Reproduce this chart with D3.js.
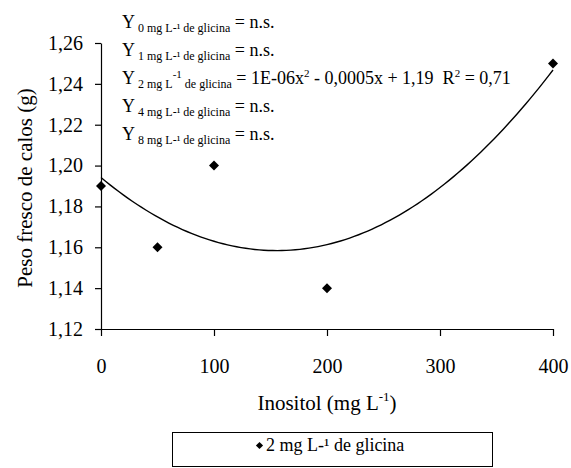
<!DOCTYPE html>
<html>
<head>
<meta charset="utf-8">
<script src="https://cdn.jsdelivr.net/npm/d3@7"></script>
</head>
<body style="margin:0">
<script>
// data
var inositol = [0, 50, 100, 200, 400];
var pesoFresco = [1.19, 1.16, 1.20, 1.14, 1.25];
var xTicks = [0, 100, 200, 300, 400];
var yTicks = [1.12, 1.14, 1.16, 1.18, 1.20, 1.22, 1.24, 1.26];
var glicinaDoses = ['0', '1', '2', '4', '8'];
var seriesName = '2 mg L-\u00b9 de glicina';
var equationText = ['1E-06x', '2', ' - 0,0005x + 1,19\u00a0\u00a0R', '2', ' = 0,71'];

var fullWidth = 571;
var fullHeight = 468;
var margin = {top: 43, right: 18, bottom: 139, left: 101};
var width = fullWidth - margin.left - margin.right;
var height = fullHeight - margin.top - margin.bottom;

var svg = d3.select('body').append('svg')
  .attr('width', fullWidth)
  .attr('height', fullHeight);

var g = svg.append('g')
  .attr('transform', 'translate(' + margin.left + ',' + margin.top + ')');

var xScale = d3.scaleLinear().domain([0, 400]).range([0, width]);
var yScale = d3.scaleLinear().domain([1.12, 1.26]).range([height, 0]);

var comma = function(d) { return d3.format('.2f')(d).replace('.', ','); };

var xAxis = d3.axisBottom(xScale)
  .tickValues(xTicks)
  .tickSize(7)
  .tickSizeOuter(0)
  .tickPadding(23);

var yAxis = d3.axisLeft(yScale)
  .tickValues(yTicks)
  .tickFormat(comma)
  .tickSize(6)
  .tickSizeOuter(0)
  .tickPadding(12);

g.append('g')
  .attr('class', 'x axis')
  .attr('transform', 'translate(0,' + height + ')')
  .call(xAxis);

g.append('g')
  .attr('class', 'y axis')
  .call(yAxis);

g.selectAll('.axis').attr('font-size', 20);
g.selectAll('.axis text').attr('fill', '#000');
g.selectAll('.axis path, .axis line')
  .attr('stroke', '#000')
  .attr('stroke-width', 1.2);

// quadratic least squares fit of the series (trendline)
function quadFit(xs, ys) {
  var n = xs.length;
  var s = [0, 0, 0, 0, 0], t = [0, 0, 0];
  for (var i = 0; i < n; i++) {
    for (var k = 0; k < 5; k++) s[k] += Math.pow(xs[i], k);
    for (var k2 = 0; k2 < 3; k2++) t[k2] += ys[i] * Math.pow(xs[i], k2);
  }
  var A = [[s[0], s[1], s[2], t[0]], [s[1], s[2], s[3], t[1]], [s[2], s[3], s[4], t[2]]];
  for (var c = 0; c < 3; c++) {
    for (var r = c + 1; r < 3; r++) {
      var f = A[r][c] / A[c][c];
      for (var j = c; j < 4; j++) A[r][j] -= f * A[c][j];
    }
  }
  var coef = [0, 0, 0];
  for (var r2 = 2; r2 >= 0; r2--) {
    var v = A[r2][3];
    for (var j2 = r2 + 1; j2 < 3; j2++) v -= A[r2][j2] * coef[j2];
    coef[r2] = v / A[r2][r2];
  }
  return coef;
}

var coef = quadFit(inositol, pesoFresco);
var trend = d3.range(0, 401, 4).map(function(x) {
  return {x: x, y: coef[0] + coef[1] * x + coef[2] * x * x};
});

var line = d3.line()
  .x(function(d) { return xScale(d.x); })
  .y(function(d) { return yScale(d.y); });

g.append('path')
  .datum(trend)
  .attr('fill', 'none')
  .attr('stroke', '#000')
  .attr('stroke-width', 1.4)
  .attr('d', line);

var diamond = d3.symbol().type(d3.symbolSquare).size(50);

g.selectAll('.pt')
  .data(inositol)
  .enter().append('path')
  .attr('class', 'pt')
  .attr('d', diamond)
  .attr('fill', '#000')
  .attr('transform', function(d, i) {
    return 'translate(' + xScale(d) + ',' + yScale(pesoFresco[i]) + ') rotate(45)';
  });

// regression annotation
var note = svg.append('g').attr('class', 'note');
glicinaDoses.forEach(function(dose, i) {
  var t = note.append('text')
    .attr('x', 122)
    .attr('y', 28 + i * 28)
    .attr('font-size', 18);
  t.append('tspan').text('Y');
  if (dose === '2') {
    t.append('tspan').attr('dy', 4).attr('font-size', 12).text('\u00a0' + dose + ' mg L');
    t.append('tspan').attr('dy', -10).attr('font-size', 11).text('-1');
    t.append('tspan').attr('dy', 10).attr('font-size', 12).text('\u00a0de glicina');
    t.append('tspan').attr('dy', -4).text('\u00a0= ' + equationText[0]);
    t.append('tspan').attr('dy', -7).attr('font-size', 11).text(equationText[1]);
    t.append('tspan').attr('dy', 7).text(equationText[2]);
    t.append('tspan').attr('dy', -7).attr('font-size', 11).text(equationText[3]);
    t.append('tspan').attr('dy', 7).text(equationText[4]);
  } else {
    t.append('tspan').attr('dy', 4).attr('font-size', 12).text('\u00a0' + dose + ' mg L-\u00b9 de glicina');
    t.append('tspan').attr('dy', -4).text(' = n.s.');
  }
});

// axis titles
svg.append('text')
  .attr('transform', 'translate(32,188) rotate(-90)')
  .attr('text-anchor', 'middle')
  .attr('font-size', 21)
  .text('Peso fresco de calos (g)');

var xTitle = svg.append('text')
  .attr('x', margin.left + width / 2)
  .attr('y', 410)
  .attr('text-anchor', 'middle')
  .attr('font-size', 21);
xTitle.append('tspan').text('Inositol (mg L');
xTitle.append('tspan').attr('dy', -9).attr('font-size', 13).text('-1');
xTitle.append('tspan').attr('dy', 9).text(')');

// legend
var legend = svg.append('g').attr('class', 'legend');
legend.append('rect')
  .attr('x', 172.5)
  .attr('y', 432.5)
  .attr('width', 320)
  .attr('height', 34)
  .attr('fill', '#fff')
  .attr('stroke', '#000')
  .attr('stroke-width', 1);
legend.append('path')
  .attr('d', d3.symbol().type(d3.symbolSquare).size(26))
  .attr('fill', '#000')
  .attr('transform', 'translate(259.5,445.5) rotate(45)');
legend.append('text')
  .attr('x', 266)
  .attr('y', 451)
  .attr('font-size', 18)
  .text(seriesName);

// every label in Times-like serif
svg.selectAll('text, tspan').attr('font-family', 'Liberation Serif');
</script>
</body>
</html>
